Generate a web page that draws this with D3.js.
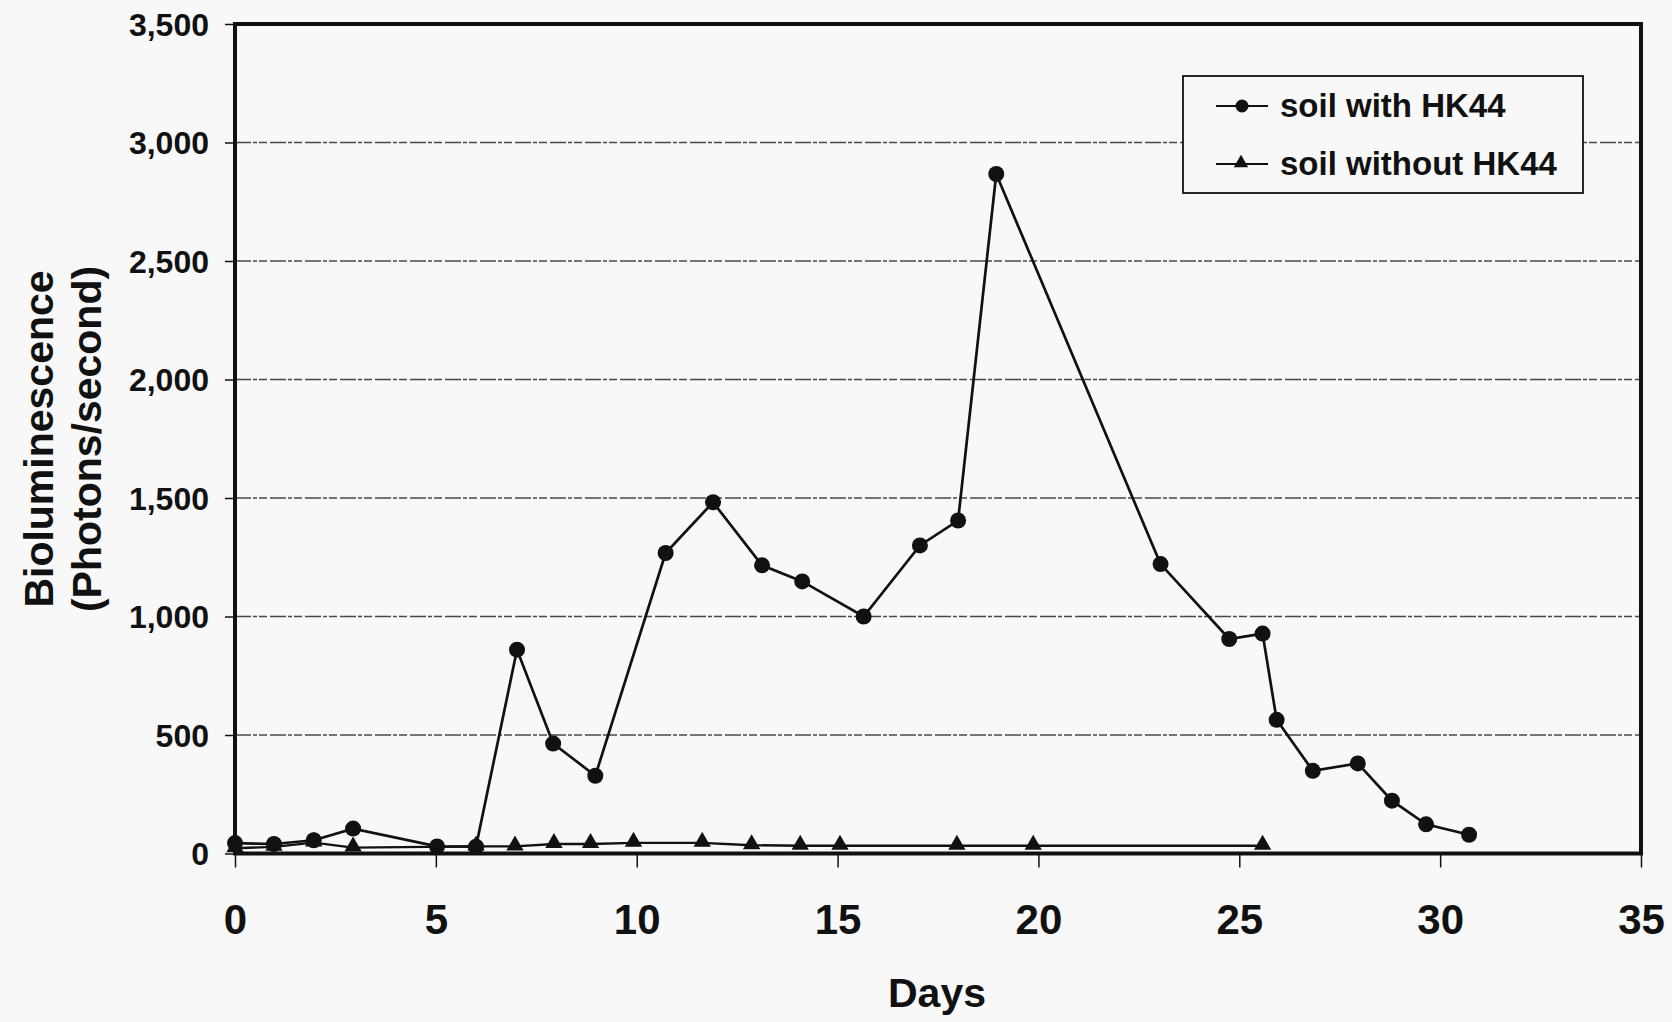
<!DOCTYPE html>
<html>
<head>
<meta charset="utf-8">
<script src="https://cdn.jsdelivr.net/npm/d3@7"></script>
<style>
  html, body { margin: 0; padding: 0; background: #f8f8f8; }
  svg { display: block; }
  text { font-family: "Liberation Sans", Arial, Helvetica, sans-serif; font-weight: bold; fill: #111; }
</style>
</head>
<body>
<svg id="chart" width="1672" height="1022"></svg>
<script>
// Bioluminescence readings over time (days)
const withDays   = [0, 0.97, 1.96, 2.94, 5.03, 6.0, 7.02, 7.92, 8.97, 10.72, 11.9, 13.12, 14.12, 15.65, 17.05, 18.0, 18.95, 23.04, 24.75, 25.58, 25.93, 26.83, 27.95, 28.8, 29.65, 30.72];
const withValues = [44, 40, 56, 105, 30, 29, 860, 464, 328, 1268, 1482, 1216, 1148, 1000, 1300, 1405, 2867, 1221, 905, 928, 564, 349, 380, 223, 123, 79];

const withoutDays   = [0, 0.97, 1.96, 2.94, 6.0, 6.97, 7.94, 8.85, 9.92, 11.63, 12.86, 14.07, 15.06, 17.97, 19.87, 25.58];
const withoutValues = [22, 28, 46, 25, 30, 30, 40, 40, 45, 45, 35, 33, 33, 33, 33, 33];

const xTicks = [0, 5, 10, 15, 20, 25, 30, 35];
const yTicks = [0, 500, 1000, 1500, 2000, 2500, 3000, 3500];
const seriesNames = ["soil with HK44", "soil without HK44"];

(function draw() {
  const svg = d3.select("#chart");
  const plotLeft = 235, plotRight = 1641, plotTop = 24, plotBottom = 853.5;

  const x = d3.scaleLinear().domain([0, 35]).range([plotLeft, plotRight]);
  const y = d3.scaleLinear().domain([0, 3500]).range([plotBottom, plotTop]);

  // horizontal grid lines
  svg.append("g")
    .selectAll("line")
    .data(yTicks.filter(v => v > 0 && v < 3500))
    .join("line")
    .attr("x1", plotLeft).attr("x2", plotRight)
    .attr("y1", d => y(d)).attr("y2", d => y(d))
    .attr("stroke", "#2a2a2a")
    .attr("stroke-width", 1.3)
    .attr("stroke-dasharray", "16,2,4,2,8,3")
    .attr("opacity", 0.85);

  // y axis
  const yAxis = d3.axisLeft(y).tickValues(yTicks).tickSize(10).tickPadding(16)
    .tickFormat(d3.format(","));
  const gy = svg.append("g").attr("transform", `translate(${plotLeft},0)`).call(yAxis);
  gy.select(".domain").remove();
  gy.selectAll(".tick line").attr("stroke", "#111").attr("stroke-width", 1.5);
  gy.selectAll(".tick text").style("font-size", "32px").attr("fill", "#111").attr("dy", "0.35em");

  // x axis
  const xAxis = d3.axisBottom(x).tickValues(xTicks).tickSize(14).tickPadding(37)
    .tickFormat(d3.format("d"));
  const gx = svg.append("g").attr("transform", `translate(0,${plotBottom})`).call(xAxis);
  gx.select(".domain").remove();
  gx.selectAll(".tick line").attr("stroke", "#111").attr("stroke-width", 1.5);
  gx.selectAll(".tick text").style("font-size", "42px").attr("fill", "#111");

  // plot frame
  svg.append("rect")
    .attr("x", plotLeft).attr("y", plotTop)
    .attr("width", plotRight - plotLeft).attr("height", plotBottom - plotTop)
    .attr("fill", "none").attr("stroke", "#111").attr("stroke-width", 4);

  // axis titles
  svg.append("text")
    .attr("transform", `translate(53,439) rotate(-90)`)
    .attr("text-anchor", "middle")
    .style("font-size", "41px")
    .text("Bioluminescence");
  svg.append("text")
    .attr("transform", `translate(101,439) rotate(-90)`)
    .attr("text-anchor", "middle")
    .style("font-size", "41px")
    .text("(Photons/second)");
  svg.append("text")
    .attr("x", 937).attr("y", 1007)
    .attr("text-anchor", "middle")
    .style("font-size", "41px")
    .text("Days");

  const line = d3.line().x(d => x(d[0])).y(d => y(d[1]));
  const withData = withDays.map((d, i) => [d, withValues[i]]);
  const withoutData = withoutDays.map((d, i) => [d, withoutValues[i]]);
  const tri = d3.symbol(d3.symbolTriangle, 130);

  // series without HK44 (triangles)
  svg.append("path").datum(withoutData)
    .attr("d", line).attr("fill", "none").attr("stroke", "#111").attr("stroke-width", 2.4);
  svg.append("g").selectAll("path").data(withoutData).join("path")
    .attr("d", tri)
    .attr("transform", d => `translate(${x(d[0])},${y(d[1]) - 1})`)
    .attr("fill", "#111");

  // series with HK44 (circles)
  svg.append("path").datum(withData)
    .attr("d", line).attr("fill", "none").attr("stroke", "#111").attr("stroke-width", 2.7);
  svg.append("g").selectAll("circle").data(withData).join("circle")
    .attr("cx", d => x(d[0])).attr("cy", d => y(d[1]))
    .attr("r", 8).attr("fill", "#111");

  // legend
  const lg = svg.append("g");
  lg.append("rect")
    .attr("x", 1183).attr("y", 76).attr("width", 400).attr("height", 117)
    .attr("fill", "#f8f8f8").attr("stroke", "#111").attr("stroke-width", 1.8);
  const rowsY = [106, 164];
  seriesNames.forEach((name, i) => {
    const ry = rowsY[i];
    lg.append("line").attr("x1", 1216).attr("x2", 1268).attr("y1", ry).attr("y2", ry)
      .attr("stroke", "#111").attr("stroke-width", 2.2);
    if (i === 0) {
      lg.append("circle").attr("cx", 1242).attr("cy", ry).attr("r", 6.5).attr("fill", "#111");
    } else {
      lg.append("path").attr("d", d3.symbol(d3.symbolTriangle, 90))
        .attr("transform", `translate(1241,${ry - 1})`).attr("fill", "#111");
    }
    lg.append("text").attr("x", 1280).attr("y", ry + 11)
      .style("font-size", "33px").text(name);
  });
})();
</script>
</body>
</html>
